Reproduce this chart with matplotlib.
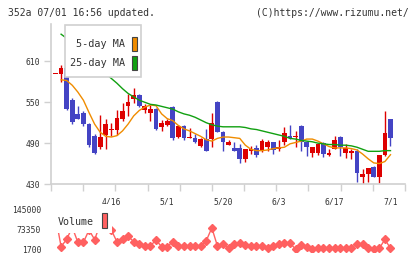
import numpy as np
import matplotlib
matplotlib.use("Agg")
import matplotlib.pyplot as plt
from matplotlib.patches import Rectangle

# daily candles (O, H, L, C)
opens = [592, 592, 601, 554, 533, 535, 518, 500, 484, 502,
         509, 510, 525, 545, 555, 560, 539, 534, 540, 514,
         517, 543, 499, 515, 498, 497, 486, 496, 496, 551,
         507, 488, 483, 483, 466, 479, 483, 478, 485, 491,
         482, 491, 501, 499, 515, 492, 476, 476, 490, 472,
         482, 499, 476, 475, 478, 441, 444, 455, 441, 472, 525]
highs = [592, 605, 603, 556, 545, 537, 519, 504, 531, 525,
         519, 539, 549, 562, 571, 562, 548, 546, 541, 524,
         526, 544, 516, 516, 512, 504, 497, 511, 535, 552,
         508, 495, 492, 489, 482, 486, 488, 496, 495, 492,
         495, 513, 516, 508, 516, 493, 484, 490, 491, 481,
         500, 500, 489, 481, 481, 452, 453, 456, 473, 537, 526]
lows = [592, 580, 539, 518, 525, 515, 485, 474, 481, 481,
        500, 502, 522, 530, 549, 543, 535, 523, 509, 508,
        515, 495, 497, 495, 497, 490, 484, 478, 485, 506,
        479, 487, 478, 461, 462, 474, 470, 477, 479, 474,
        479, 488, 496, 485, 479, 471, 470, 473, 470, 471,
        481, 471, 468, 466, 433, 430, 433, 441, 431, 471, 486]
closes = [592, 600, 540, 521, 526, 518, 487, 476, 499, 518,
          511, 527, 537, 551, 560, 545, 544, 540, 511, 520,
          523, 497, 515, 497, 499, 491, 496, 479, 520, 507,
          491, 491, 479, 466, 482, 482, 472, 493, 492, 480,
          485, 505, 497, 500, 491, 485, 484, 489, 474, 476,
          494, 484, 483, 478, 446, 445, 453, 441, 473, 505, 498]

ma5 = [np.nan, 583, 582, 575, 565, 553, 535, 518, 506, 500,
       499, 501, 508, 518, 530, 538, 543, 546, 545, 533,
       526, 523, 516, 511, 508, 504, 500, 495, 493, 497,
       499, 499, 498, 497, 487, 481, 479, 479, 480, 482,
       483, 484, 489, 491, 493, 496, 496, 493, 489, 485,
       483, 483, 483, 482, 480, 474, 467, 461, 460, 463, 473]
ma25 = [np.nan, 650, 644, 637, 630, 622, 614, 606, 599, 592,
        585, 578, 570, 563, 558, 553, 550, 547, 546, 544,
        542, 540, 536, 533, 531, 528, 524, 520, 517, 515,
        514, 514, 514, 514, 513, 511, 510, 508, 506, 504,
        502, 500, 497, 496, 494, 493, 492, 490, 489, 488,
        488, 487, 487, 486, 484, 481, 478, 478, 478, 479, 479]

volume = [120000, 10000, 37000, 80000, 26000, 26000, 70000, 36000, 90000, 80000,
          70000, 27800, 36500, 48000, 28000, 18500, 13500, 13500, 34000, 10000,
          10000, 28000, 12500, 12500, 12500, 12500, 12500, 31500, 78000, 12500,
          19600, 4000, 19600, 24000, 16000, 12500, 12500, 12500, 6400, 12500,
          19600, 22000, 22000, 1700, 16000, 10000, 1700, 4000, 6400, 4000,
          4000, 4000, 6400, 6400, 19600, 19600, 4000, 1700, 4000, 36500, 4000]

date_labels = ["4/16", "5/1", "5/20", "6/3", "6/17", "7/1"]
date_index = [10, 20, 30, 40, 50, 60]
price_ticks = [430, 490, 550, 610]
vol_ticks = [1700, 73350, 145000]

RED = "#dd0000"
BLUE = "#4444c4"
GRID = "#d0d0d0"
TXT = "#333333"
MONO = "DejaVu Sans Mono"

W, H = 420, 259
fig = plt.figure(figsize=(W / 100, H / 100), dpi=100)


def fx(px):
    return px / W


def fy(py):
    return 1 - py / H


x = np.arange(len(closes))
xlim = (-0.81, 62.6)

# price panel
ax = fig.add_axes([fx(51), fy(184), fx(405) - fx(51), fy(24) - fy(184)])
o = np.array(opens)
c = np.array(closes)
up = c >= o
cols = np.where(up, RED, BLUE)
ax.vlines(x, lows, highs, colors=cols, lw=1, zorder=2)
body = np.maximum(np.abs(c - o), 0.9)
ax.bar(x, body, bottom=np.minimum(o, c), width=0.85, color=cols, lw=0, zorder=3)
ax.plot(x, ma5, color="#f08c00", lw=1, zorder=4)
ax.plot(x, ma25, color="#11a011", lw=1, zorder=4)

ax.set_xlim(*xlim)
ax.set_ylim(430, 665)
ax.set_yticks(price_ticks)
ax.set_yticklabels([str(t) for t in price_ticks], fontsize=5.8, family=MONO, color=TXT)
ax.tick_params(axis="y", length=5, width=1, color=GRID, pad=3)
ax.set_xticks(date_index)
ax.set_xticklabels(date_labels, fontsize=5.8, family=MONO, color=TXT)
ax.tick_params(axis="x", which="major", length=0, pad=10)
ax.set_xticks(np.linspace(xlim[0], xlim[1], 12), minor=True)
ax.tick_params(axis="x", which="minor", length=5, width=1, color=GRID)
for s in ["top", "right"]:
    ax.spines[s].set_visible(False)
for s in ["left", "bottom"]:
    ax.spines[s].set_color(GRID)
    ax.spines[s].set_linewidth(1.2)

# volume panel
axv = fig.add_axes([fx(51), fy(252), fx(405) - fx(51), fy(205) - fy(252)])
axv.plot(x, volume, color="#ff6060", lw=1, marker="D", markersize=3.8, zorder=2)
axv.set_xlim(*xlim)
axv.set_ylim(-9100, 160500)
axv.set_yticks(vol_ticks)
axv.set_yticklabels([str(t) for t in vol_ticks], fontsize=5.8, family=MONO, color=TXT)
axv.tick_params(axis="y", length=0, pad=7)
axv.set_xticks([])
for s in axv.spines.values():
    s.set_visible(False)

# price legend
fig.add_artist(Rectangle((fx(65), fy(77)), fx(141) - fx(65), fy(25) - fy(77),
                         transform=fig.transFigure, facecolor="white", edgecolor=GRID, lw=1.2))
fig.text(fx(125), fy(44), "5-day MA", fontsize=7.3, family=MONO, color=TXT, ha="right", va="center")
fig.text(fx(125), fy(63), "25-day MA", fontsize=7.3, family=MONO, color=TXT, ha="right", va="center")
fig.add_artist(Rectangle((fx(131.5), fy(51)), fx(5.5), fy(0) - fy(14), transform=fig.transFigure,
                         facecolor="#f08c00", edgecolor="#444444", lw=0.8))
fig.add_artist(Rectangle((fx(131.5), fy(70)), fx(5.5), fy(0) - fy(14), transform=fig.transFigure,
                         facecolor="#11a011", edgecolor="#444444", lw=0.8))

# volume legend (opaque, hides the line behind it)
fig.add_artist(Rectangle((fx(48), fy(233)), fx(112) - fx(48), fy(204) - fy(233),
                         transform=fig.transFigure, facecolor="white", edgecolor="none"))
fig.text(fx(58), fy(222), "Volume", fontsize=7.2, family=MONO, color=TXT, ha="left", va="center")
fig.add_artist(Rectangle((fx(101.5), fy(228)), fx(5.5), fy(0) - fy(15), transform=fig.transFigure,
                         facecolor="#ff6060", edgecolor="#444444", lw=0.8))

# header
fig.text(fx(8), fy(13), "352a 07/01 16:56 updated.", fontsize=7.0, family=MONO, color=TXT, va="center")
fig.text(fx(409), fy(13), "(C)https://www.rizumu.net/", fontsize=7.0, family=MONO, color=TXT,
         va="center", ha="right")

fig.savefig("out.png", dpi=100)
